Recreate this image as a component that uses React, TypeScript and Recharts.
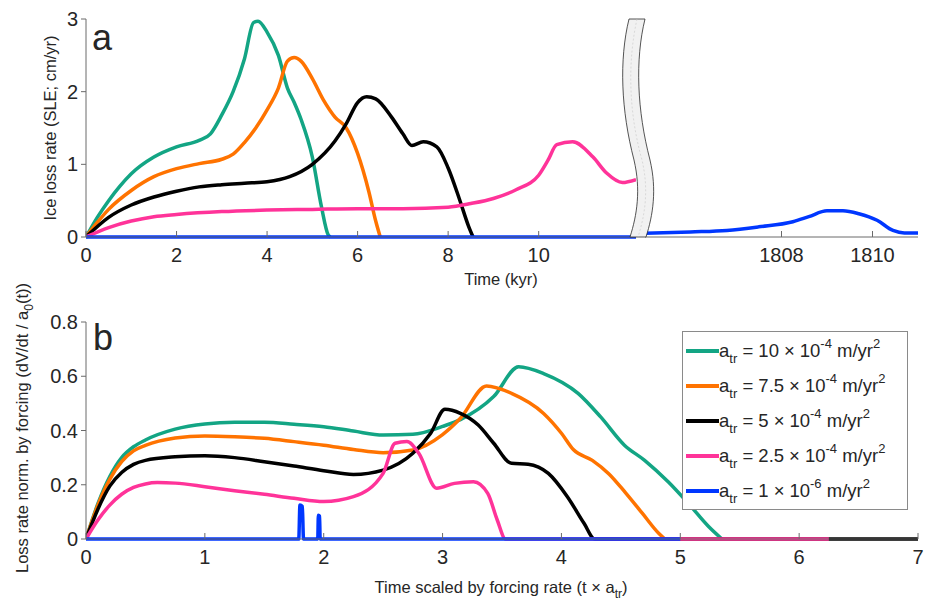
import React from "react";
import { LineChart, Line, XAxis, YAxis, Legend } from "recharts";

const TEXT = "#262626";
const AXIS = "#6a6a6a";
const FONT = '"Liberation Sans", Arial, Helvetica, sans-serif';

const COLORS = ["#13a584", "#ff7300", "#000000", "#ff3399", "#0037ff"];
const RATE_BASE = ["10", "7.5", "5", "2.5", "1"];
const RATE_EXP = ["-4", "-4", "-4", "-4", "-6"];

// panel a: ice loss rate (SLE, cm/yr) against time (kyr)
const A_GREEN: [number, number][] = [
  [0, 0], [0.25, 0.27], [0.5, 0.5], [0.75, 0.7], [1, 0.87], [1.5, 1.1], [2, 1.24],
  [2.5, 1.33], [2.75, 1.42], [3, 1.68], [3.25, 2.0], [3.5, 2.45], [3.7, 2.95],
  [3.8, 2.97], [4, 2.82], [4.25, 2.5], [4.45, 2.05], [4.6, 1.85], [4.75, 1.62],
  [5, 1.1], [5.2, 0.42], [5.35, 0.03], [5.4, 0],
];
const A_ORANGE: [number, number][] = [
  [0, 0], [0.25, 0.2], [0.5, 0.38], [1, 0.64], [1.5, 0.83], [2, 0.94], [2.5, 1.01],
  [3, 1.07], [3.25, 1.14], [3.5, 1.3], [3.75, 1.5], [4, 1.75], [4.25, 2.05],
  [4.45, 2.42], [4.6, 2.47], [4.75, 2.42], [5, 2.18], [5.25, 1.88], [5.5, 1.65],
  [5.75, 1.5], [6, 1.15], [6.25, 0.62], [6.4, 0.22], [6.5, 0],
];
const A_BLACK: [number, number][] = [
  [0, 0], [0.5, 0.27], [1, 0.44], [1.5, 0.55], [2, 0.63], [2.5, 0.69], [3, 0.72],
  [3.5, 0.74], [4, 0.76], [4.5, 0.83], [5, 1.0], [5.5, 1.32], [5.75, 1.56],
  [6, 1.85], [6.2, 1.93], [6.4, 1.9], [6.75, 1.65], [7, 1.42], [7.2, 1.26],
  [7.45, 1.31], [7.75, 1.24], [8, 0.95], [8.25, 0.52], [8.45, 0.15], [8.55, 0],
];
const A_PINK: [number, number][] = [
  [0, 0], [0.5, 0.13], [1, 0.22], [1.5, 0.28], [2, 0.31], [3, 0.35], [4, 0.37],
  [5, 0.38], [6, 0.39], [7, 0.39], [8, 0.41], [8.5, 0.46], [9, 0.53], [9.5, 0.65],
  [10, 0.85], [10.2, 1.05], [10.4, 1.27], [10.75, 1.31], [11.2, 1.1], [11.5, 0.88],
  [11.85, 0.75], [12.15, 0.79],
];
const A_BLUE: [number, number][] = [[0, 0], [12.15, 0]];
const A_BLUE_LATE: [number, number][] = [
  [1805, 0.05], [1806, 0.07], [1806.8, 0.09], [1807.5, 0.14], [1808.25, 0.21],
  [1808.6, 0.28], [1809, 0.36], [1809.35, 0.36], [1809.7, 0.32], [1810.1, 0.23],
  [1810.45, 0.09], [1810.7, 0.055], [1811, 0.055],
];

// panel b: loss rate normalised by forcing against scaled time
const B_GREEN: [number, number][] = [
  [0, 0], [0.1, 0.13], [0.2, 0.23], [0.3, 0.3], [0.4, 0.34], [0.5, 0.365],
  [0.75, 0.405], [1, 0.424], [1.25, 0.43], [1.5, 0.43], [1.75, 0.423], [2, 0.414],
  [2.25, 0.398], [2.5, 0.383], [2.75, 0.386], [3, 0.415], [3.15, 0.44],
  [3.43, 0.525], [3.64, 0.635], [3.85, 0.61], [4.14, 0.537], [4.33, 0.45],
  [4.53, 0.346], [4.7, 0.29], [4.9, 0.21], [5.07, 0.13], [5.24, 0.045], [5.35, 0],
];
const B_ORANGE: [number, number][] = [
  [0, 0], [0.1, 0.125], [0.2, 0.22], [0.3, 0.285], [0.4, 0.325], [0.5, 0.345],
  [0.75, 0.372], [1, 0.38], [1.25, 0.377], [1.5, 0.371], [1.75, 0.359], [2, 0.346],
  [2.25, 0.33], [2.5, 0.318], [2.75, 0.328], [3, 0.385], [3.15, 0.445],
  [3.37, 0.564], [3.58, 0.537], [3.85, 0.463], [4, 0.39], [4.1, 0.33], [4.26, 0.29],
  [4.4, 0.24], [4.54, 0.17], [4.68, 0.095], [4.82, 0.02], [4.87, 0],
];
const B_BLACK: [number, number][] = [
  [0, 0], [0.1, 0.11], [0.2, 0.195], [0.3, 0.245], [0.4, 0.275], [0.5, 0.29],
  [0.75, 0.303], [1, 0.307], [1.25, 0.3], [1.5, 0.285], [1.75, 0.269], [2, 0.252],
  [2.25, 0.238], [2.5, 0.254], [2.75, 0.316], [2.9, 0.39], [3.02, 0.478],
  [3.15, 0.463], [3.3, 0.42], [3.43, 0.353], [3.58, 0.279], [3.72, 0.276],
  [3.89, 0.242], [4.05, 0.156], [4.19, 0.058], [4.28, 0], [7, 0],
];
const B_PINK: [number, number][] = [
  [0, 0], [0.1, 0.07], [0.2, 0.125], [0.3, 0.165], [0.4, 0.19], [0.5, 0.203],
  [0.6, 0.208], [0.75, 0.206], [1, 0.193], [1.25, 0.178], [1.5, 0.165],
  [1.75, 0.15], [2, 0.138], [2.25, 0.156], [2.5, 0.242], [2.6, 0.353], [2.7, 0.359],
  [2.8, 0.316], [2.95, 0.187], [3.1, 0.205], [3.26, 0.211], [3.38, 0.168],
  [3.46, 0.07], [3.53, 0], [6.25, 0],
];
const B_BLUE: [number, number][] = [
  [0, 0], [1.79, 0], [1.8, 0.125], [1.82, 0.12], [1.83, 0], [1.95, 0],
  [1.955, 0.088], [1.965, 0.085], [1.97, 0], [5, 0],
];

const A_X_TICKS = [0, 2, 4, 6, 8, 10];
const A_X_TICKS_LATE = [1808, 1810];
const A_Y_TICKS = [0, 1, 2, 3];
const B_X_TICKS = [0, 1, 2, 3, 4, 5, 6, 7];
const B_Y_TICKS = [0, 0.2, 0.4, 0.6, 0.8];

const toPts = (pairs: [number, number][]) => pairs.map(([t, v]) => ({ t, v }));

const BottomTick = (p: any) => (
  <g>
    <line x1={p.x} y1={p.y} x2={p.x} y2={p.y - 6} stroke={AXIS} />
    <text x={p.x} y={p.y + 25} textAnchor="middle" fontSize={20} fill={TEXT} fontFamily={FONT}>
      {p.payload.value}
    </text>
  </g>
);
const TopTick = (p: any) => <line x1={p.x} y1={p.y} x2={p.x} y2={p.y + 6} stroke={AXIS} />;
const RightTick = (p: any) => <line x1={p.x} y1={p.y} x2={p.x - 6} y2={p.y} stroke={AXIS} />;

const yTickStyle = { fontSize: 20, fill: TEXT, fontFamily: FONT };

const series = (list: [number, number][][]) =>
  list.map((pairs, i) => (
    <Line
      key={i}
      data={toPts(pairs)}
      dataKey="v"
      type="monotone"
      stroke={COLORS[i]}
      strokeWidth={3.5}
      dot={false}
      isAnimationActive={false}
    />
  ));

const Sub = ({ children }: { children: React.ReactNode }) => (
  <span style={{ fontSize: 13, position: "relative", top: 6, lineHeight: 1 }}>{children}</span>
);
const Sup = ({ children }: { children: React.ReactNode }) => (
  <span style={{ fontSize: 13, position: "relative", top: -9, lineHeight: 1 }}>{children}</span>
);

const LegendBox = () => (
  <div
    style={{
      border: "1px solid #8a8a8a",
      background: "#fff",
      width: 226,
      height: 179,
      boxSizing: "border-box",
      paddingTop: 1,
      fontFamily: FONT,
      color: TEXT,
      fontSize: 18.5,
    }}
  >
    {COLORS.map((c, i) => (
      <div key={i} style={{ display: "flex", alignItems: "center", height: 35, whiteSpace: "nowrap" }}>
        <svg width={36} height={6} style={{ flex: "none" }}>
          <line x1={3} y1={3} x2={36} y2={3} stroke={c} strokeWidth={4} />
        </svg>
        <span>
          a<Sub>tr</Sub> = {RATE_BASE[i]}
          <span style={{ margin: "0 5px", fontWeight: 300 }}>×</span>
          10<Sup>{RATE_EXP[i]}</Sup> m/yr<Sup>2</Sup>
        </span>
      </div>
    ))}
  </div>
);

export default function App() {
  return (
    <div style={{ position: "absolute", left: 0, top: 0, width: 927, height: 600, background: "#fff", fontFamily: FONT }}>
      {/* panel a, first 12 kyr */}
      <div style={{ position: "absolute", left: 0, top: 0 }}>
        <LineChart width={640} height={300} margin={{ top: 19, right: 4, bottom: 33, left: 0 }}>
          <XAxis dataKey="t" type="number" domain={[0, 12.15]} ticks={A_X_TICKS} interval={0}
            allowDataOverflow height={30} tickSize={0} tickMargin={0} tickLine={false}
            axisLine={{ stroke: AXIS }} tick={(p: any) => <BottomTick {...p} />} />
          <XAxis xAxisId="top" orientation="top" dataKey="t" type="number" domain={[0, 12.15]}
            height={0} tick={false} axisLine={{ stroke: "#8a8a8a" }} />
          <YAxis type="number" domain={[0, 3]} ticks={A_Y_TICKS} interval={0} width={86}
            tick={yTickStyle} tickSize={5} tickMargin={3} tickLine={{ stroke: AXIS }}
            axisLine={{ stroke: AXIS }} />
          {series([A_GREEN, A_ORANGE, A_BLACK, A_PINK, A_BLUE])}
        </LineChart>
      </div>
      {/* panel a, after the axis break */}
      <div style={{ position: "absolute", left: 640, top: 0 }}>
        <LineChart width={287} height={300} margin={{ top: 19, right: 9, bottom: 33, left: 5 }}>
          <XAxis dataKey="t" type="number" domain={[1805, 1811]} ticks={A_X_TICKS_LATE} interval={0}
            allowDataOverflow height={30} tickSize={0} tickMargin={0} tickLine={false}
            axisLine={{ stroke: AXIS }} tick={(p: any) => <BottomTick {...p} />} />
          <XAxis xAxisId="top" orientation="top" dataKey="t" type="number" domain={[1805, 1811]}
            height={0} tick={false} axisLine={{ stroke: "#8a8a8a" }} />
          <YAxis type="number" domain={[0, 3]} hide />
          <YAxis yAxisId="r" orientation="right" type="number" domain={[0, 3]} ticks={A_Y_TICKS}
            interval={0} width={0} tickSize={0} tickMargin={0} tickLine={false}
            axisLine={{ stroke: AXIS }} tick={(p: any) => <RightTick {...p} />} />
          <Line data={toPts(A_BLUE_LATE)} dataKey="v" type="monotone" stroke={COLORS[4]}
            strokeWidth={3.5} dot={false} isAnimationActive={false} />
        </LineChart>
      </div>
      {/* panel b */}
      <div style={{ position: "absolute", left: 0, top: 300 }}>
        <LineChart width={927} height={300} margin={{ top: 22, right: 9, bottom: 31, left: 0 }}>
          <XAxis dataKey="t" type="number" domain={[0, 7]} ticks={B_X_TICKS} interval={0}
            allowDataOverflow height={30} tickSize={0} tickMargin={0} tickLine={false}
            axisLine={{ stroke: AXIS }} tick={(p: any) => <BottomTick {...p} />} />
          <XAxis xAxisId="top" orientation="top" dataKey="t" type="number" domain={[0, 7]}
            ticks={B_X_TICKS} interval={0} height={0} tickSize={0} tickMargin={0} tickLine={false}
            axisLine={{ stroke: AXIS }} tick={(p: any) => <TopTick {...p} />} />
          <YAxis type="number" domain={[0, 0.8]} ticks={B_Y_TICKS} interval={0} width={86}
            tick={yTickStyle} tickSize={5} tickMargin={3} tickLine={{ stroke: AXIS }}
            axisLine={{ stroke: AXIS }} />
          <YAxis yAxisId="r" orientation="right" type="number" domain={[0, 0.8]} ticks={B_Y_TICKS}
            interval={0} width={0} tickSize={0} tickMargin={0} tickLine={false}
            axisLine={{ stroke: AXIS }} tick={(p: any) => <RightTick {...p} />} />
          {series([B_GREEN, B_ORANGE, B_BLACK, B_PINK, B_BLUE])}
          <Legend layout="horizontal" verticalAlign="middle" align="center"
            wrapperStyle={{ left: 682, top: 31, width: 226 }} content={() => <LegendBox />} />
        </LineChart>
      </div>
      {/* titles, panel letters and the axis-break marker */}
      <svg width={927} height={600} style={{ position: "absolute", left: 0, top: 0, pointerEvents: "none" }}
        fontFamily={FONT} fill={TEXT}>
        <path
          d="M629,19 C619,60 621,110 634,160 C641,190 637,215 630,237 L646,237 C653,215 657,190 650,160 C637,110 635,60 645,19 Z"
          fill="#f1f1f1" stroke="#2a2a2a" strokeWidth={0.8}
        />
        <path d="M637,19 C628,60 628,110 642,160 C649,190 645,215 638,237" fill="none"
          stroke="#c8c8c8" strokeWidth={0.6} strokeDasharray="2 2" />
        <text x={92} y={50} fontSize={36}>a</text>
        <text x={93} y={350} fontSize={36}>b</text>
        <text x={501} y={285} fontSize={16.5} textAnchor="middle">Time (kyr)</text>
        <text x={501} y={593} fontSize={16.5} textAnchor="middle">
          Time scaled by forcing rate (t × a<tspan fontSize={12} dy={5}>tr</tspan><tspan dy={-5}>)</tspan>
        </text>
        <text x={56} y={128} fontSize={16.5} textAnchor="middle" transform="rotate(-90 56 128)">
          Ice loss rate (SLE; cm/yr)
        </text>
        <text x={28} y={428} fontSize={16.5} textAnchor="middle" transform="rotate(-90 28 428)">
          Loss rate norm. by forcing (dV/dt / a<tspan fontSize={12} dy={5}>0</tspan><tspan dy={-5}>(t))</tspan>
        </text>
      </svg>
    </div>
  );
}
